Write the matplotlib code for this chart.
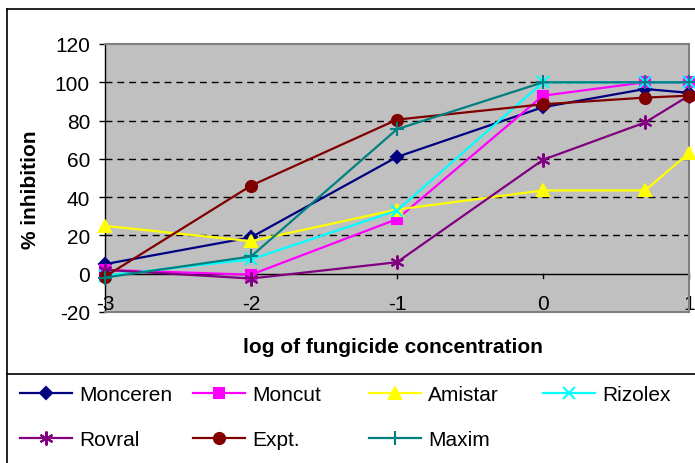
import matplotlib.pyplot as plt
from matplotlib.lines import Line2D

plt.rcParams['font.family'] = ['Liberation Sans', 'DejaVu Sans']
plt.rcParams['axes.unicode_minus'] = False

# log of fungicide concentration
x = [-3, -2, -1, 0, 0.699, 1]

monceren = [5, 19, 61, 87, 96.5, 94.5]
moncut = [2, -0.5, 28.5, 93, 100, 100]
amistar = [25, 17, 33.5, 43.5, 43.5, 63]
rizolex = [-1, 7.5, 33, 100, 100, 100]
rovral = [2, -2.5, 6, 59.5, 79, 93]
expt = [-1.5, 46, 80.5, 88.5, 92, 93]
maxim = [-2, 9, 75.5, 100, 100, 100]

names = ['Monceren', 'Moncut', 'Amistar', 'Rizolex', 'Rovral', 'Expt.', 'Maxim']
series = [monceren, moncut, amistar, rizolex, rovral, expt, maxim]
colors = ['#000080', '#FF00FF', '#FFFF00', '#00FFFF', '#800080', '#800000', '#008080']
markers = ['D', 's', '^', 'x', (6, 2, 0), 'o', '+']
msizes = [6.5, 7, 9, 8, 10, 8, 10]

W, H = 695, 464
fig = plt.figure(figsize=(W / 100, H / 100), dpi=100)
ax = fig.add_axes([105 / W, 1 - 313 / H, (689 - 105) / W, (313 - 45) / H])
ax.set_facecolor('#C0C0C0')

lines = []
for vals, name, c, m, ms in zip(series, names, colors, markers, msizes):
    ln, = ax.plot(x, vals, color=c, marker=m, markersize=ms, lw=1.6,
                  markeredgewidth=1.5, label=name, clip_on=False, zorder=3)
    lines.append(ln)

ax.set_xlim(-3, 1)
ax.set_ylim(-20, 120)
ax.set_yticks(range(-20, 121, 20))
ax.set_xticks([-3, -2, -1, 0, 1])
ax.set_xticklabels(['-3', '-2', '-1', '0', '1'])

for yv in range(20, 101, 20):
    ax.axhline(yv, color='black', lw=1, dashes=(5, 3.5), zorder=1)
ax.axhline(0, color='black', lw=1, zorder=2)

for s in ['top', 'right', 'bottom']:
    ax.spines[s].set_color('#808080')
    ax.spines[s].set_linewidth(1.5)
ax.spines['left'].set_color('black')
ax.spines['left'].set_linewidth(1)

ax.tick_params(axis='y', direction='out', length=4.3, width=1, labelsize=15, pad=6.5)
ax.tick_params(axis='x', direction='out', length=0, labelsize=15, pad=-13)
# x ticks sit on the zero line
for xv in [-3, -2, -1, 0, 1]:
    ax.plot([xv, xv], [0, -2], color='black', lw=1, clip_on=False, zorder=2)

fig.text(30 / W, 1 - 190 / H, '% inhibition', rotation=90, ha='center', va='center',
         fontsize=15, fontweight='bold')
fig.text(393 / W, 1 - 348 / H, 'log of fungicide concentration', ha='center', va='center',
         fontsize=15, fontweight='bold')

# outer border and legend box
fig.add_artist(Line2D([7 / W, 7 / W], [0, 1 - 10 / H], color='black', lw=1.2))
fig.add_artist(Line2D([7 / W, 1], [1 - 10 / H, 1 - 10 / H], color='black', lw=1.2))
fig.add_artist(Line2D([7 / W, 1], [1 - 375 / H, 1 - 375 / H], color='black', lw=1.2))

col_x = [20, 193, 369, 543]
row_y = [396, 441]
pos = [(0, 0), (1, 0), (2, 0), (3, 0), (0, 1), (1, 1), (2, 1)]
for ln, (ci, ri) in zip(lines, pos):
    fig.legend(handles=[ln], loc='center left',
               bbox_to_anchor=(col_x[ci] / W, 1 - row_y[ri] / H),
               frameon=False, borderpad=0, borderaxespad=0, fontsize=15,
               handlelength=2.5, handletextpad=0.35)

fig.savefig('out.png', dpi=100)
